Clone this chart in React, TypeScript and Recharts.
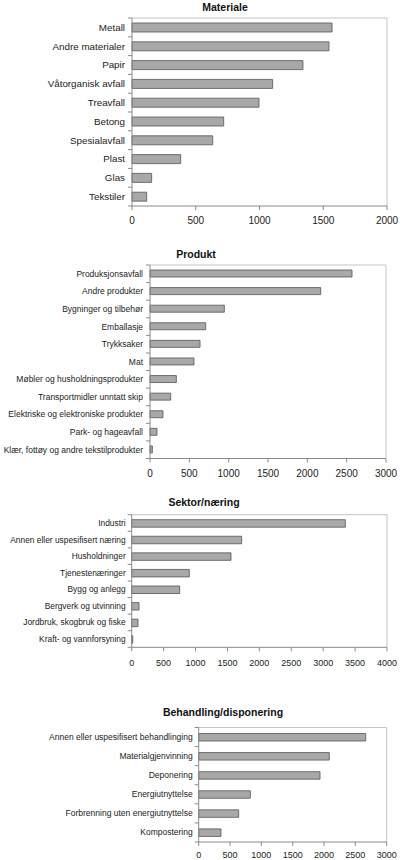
import { BarChart, Bar, XAxis, YAxis, CartesianGrid } from "recharts";

// Materiale
const materialLabels = [
  "Metall",
  "Andre materialer",
  "Papir",
  "Våtorganisk avfall",
  "Treavfall",
  "Betong",
  "Spesialavfall",
  "Plast",
  "Glas",
  "Tekstiler",
];
const materialValues = [1569, 1545, 1341, 1103, 996, 719, 633, 382, 154, 115];
const materialTicks = [0, 500, 1000, 1500, 2000];

// Produkt
const produktLabels = [
  "Produksjonsavfall",
  "Andre produkter",
  "Bygninger og tilbehør",
  "Emballasje",
  "Trykksaker",
  "Mat",
  "Møbler og husholdningsprodukter",
  "Transportmidler unntatt skip",
  "Elektriske og elektroniske produkter",
  "Park- og hageavfall",
  "Klær, fottøy og andre tekstilprodukter",
];
const produktValues = [2568, 2170, 945, 708, 636, 559, 335, 263, 165, 89, 30];
const produktTicks = [0, 500, 1000, 1500, 2000, 2500, 3000];

// Sektor/næring
const sektorLabels = [
  "Industri",
  "Annen eller uspesifisert næring",
  "Husholdninger",
  "Tjenestenæringer",
  "Bygg og anlegg",
  "Bergverk og utvinning",
  "Jordbruk, skogbruk og fiske",
  "Kraft- og vannforsyning",
];
const sektorValues = [3347, 1723, 1556, 903, 752, 115, 99, 16];
const sektorTicks = [0, 500, 1000, 1500, 2000, 2500, 3000, 3500, 4000];

// Behandling/disponering
const behandlingLabels = [
  "Annen eller uspesifisert behandlinging",
  "Materialgjenvinning",
  "Deponering",
  "Energiutnyttelse",
  "Forbrenning uten energiutnyttelse",
  "Kompostering",
];
const behandlingValues = [2665, 2084, 1936, 824, 638, 356];
const behandlingTicks = [0, 500, 1000, 1500, 2000, 2500, 3000];

const FONT = "'Liberation Sans', Arial, sans-serif";
const AXIS = "#8a8a8a";

interface PanelProps {
  title: string;
  titleX: number;
  titleY: number;
  labels: string[];
  values: number[];
  ticks: number[];
  top: number;
  height: number;
  plotTop: number;
  plotBottom: number;
  plotLeft: number;
  plotRight: number;
  labelSize: number;
  labelGap: number;
  tickSize: number;
  tickGap: number;
  barSize: number;
}

function CatTick({ x, y, payload, index, left, step, fontSize, count }: any) {
  return (
    <g>
      <line x1={left - 4} x2={left} y1={y - step / 2} y2={y - step / 2} stroke={AXIS} />
      {index === count - 1 && (
        <line x1={left - 4} x2={left} y1={y + step / 2} y2={y + step / 2} stroke={AXIS} />
      )}
      <text
        x={x}
        y={y}
        dy="0.35em"
        textAnchor="end"
        fontSize={fontSize}
        fontFamily={FONT}
        fill="#222"
      >
        {payload.value}
      </text>
    </g>
  );
}

function Panel(p: PanelProps) {
  const data = p.labels.map((name, i) => ({ name, value: p.values[i] }));
  const step = (p.plotBottom - p.plotTop) / p.labels.length;
  const max = p.ticks[p.ticks.length - 1];
  return (
    <>
      <div
        style={{
          position: "absolute",
          left: p.titleX,
          top: p.titleY,
          transform: "translateX(-50%)",
          fontFamily: FONT,
          fontWeight: "bold",
          fontSize: 10.5,
          color: "#111",
          whiteSpace: "nowrap",
        }}
      >
        {p.title}
      </div>
      <div style={{ position: "absolute", left: 0, top: p.top }}>
        <BarChart
          width={400}
          height={p.height}
          data={data}
          layout="vertical"
          margin={{
            top: p.plotTop - p.top,
            right: 400 - p.plotRight,
            bottom: 0,
            left: 0,
          }}
          barSize={p.barSize}
        >
          <CartesianGrid
            stroke="#c4c4c4"
            horizontalCoordinatesGenerator={({ offset }: any) => [offset.top]}
            verticalCoordinatesGenerator={({ offset }: any) => [offset.left + offset.width]}
          />
          <XAxis
            type="number"
            domain={[0, max]}
            ticks={p.ticks}
            interval={0}
            height={p.top + p.height - p.plotBottom}
            stroke={AXIS}
            tickSize={4}
            tickMargin={p.tickGap}
            tick={{ fontSize: p.tickSize, fontFamily: FONT, fill: "#222" }}
          />
          <YAxis
            type="category"
            dataKey="name"
            width={p.plotLeft}
            interval={0}
            stroke={AXIS}
            tickLine={false}
            tickSize={0}
            tickMargin={p.labelGap}
            tick={(t: any) => (
              <CatTick
                {...t}
                left={p.plotLeft}
                step={step}
                fontSize={p.labelSize}
                count={p.labels.length}
              />
            )}
          />
          <Bar dataKey="value" fill="#a8a8a8" stroke="#555" strokeWidth={0.8} isAnimationActive={false} />
        </BarChart>
      </div>
    </>
  );
}

export default function App() {
  return (
    <div style={{ position: "absolute", left: 0, top: 0, width: 400, height: 860, background: "#fff" }}>
      <Panel
        title="Materiale"
        titleX={225}
        titleY={1}
        labels={materialLabels}
        values={materialValues}
        ticks={materialTicks}
        top={0}
        height={232}
        plotTop={18}
        plotBottom={206}
        plotLeft={132}
        plotRight={387}
        labelSize={9.8}
        labelGap={7}
        tickSize={10}
        tickGap={6.5}
        barSize={9}
      />
      <Panel
        title="Produkt"
        titleX={196}
        titleY={248}
        labels={produktLabels}
        values={produktValues}
        ticks={produktTicks}
        top={240}
        height={245}
        plotTop={265}
        plotBottom={458.5}
        plotLeft={150}
        plotRight={386}
        labelSize={8.5}
        labelGap={7}
        tickSize={10}
        tickGap={7.5}
        barSize={7}
      />
      <Panel
        title="Sektor/næring"
        titleX={204}
        titleY={496}
        labels={sektorLabels}
        values={sektorValues}
        ticks={sektorTicks}
        top={490}
        height={182}
        plotTop={514.7}
        plotBottom={647.3}
        plotLeft={131.7}
        plotRight={387}
        labelSize={8.4}
        labelGap={6}
        tickSize={9}
        tickGap={8}
        barSize={7.5}
      />
      <Panel
        title="Behandling/disponering"
        titleX={223}
        titleY={706}
        labels={behandlingLabels}
        values={behandlingValues}
        ticks={behandlingTicks}
        top={700}
        height={160}
        plotTop={727.5}
        plotBottom={842}
        plotLeft={198.7}
        plotRight={386.7}
        labelSize={8.5}
        labelGap={6}
        tickSize={9}
        tickGap={5.5}
        barSize={7.5}
      />
    </div>
  );
}
